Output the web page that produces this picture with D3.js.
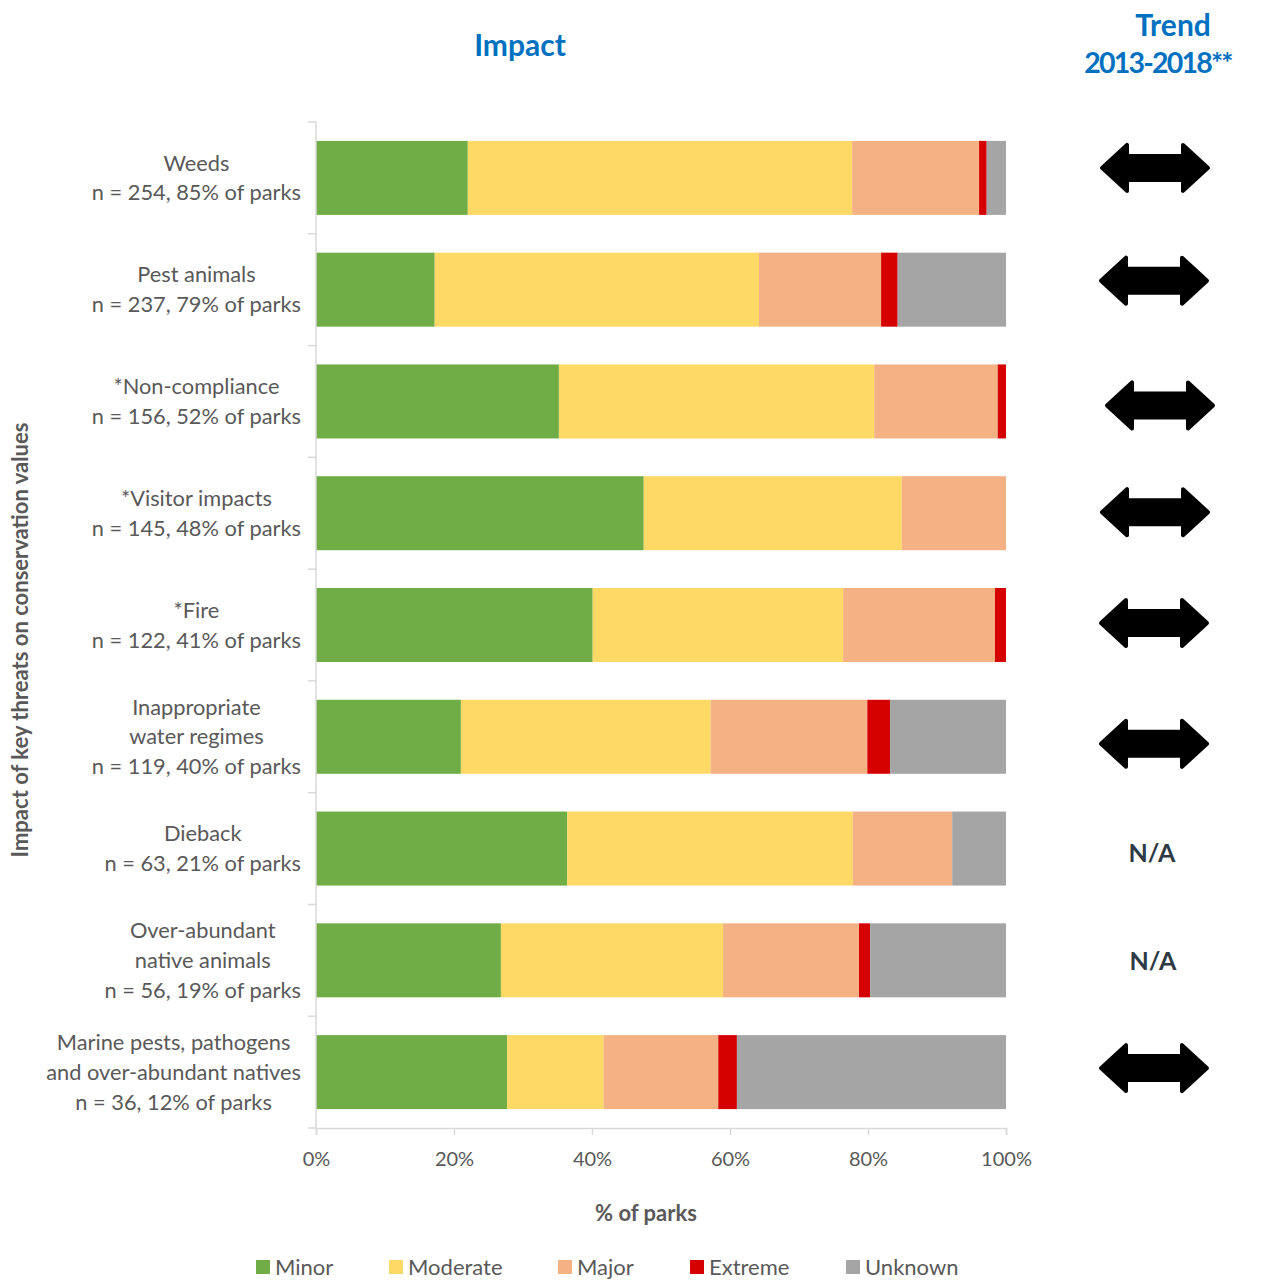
<!DOCTYPE html>
<html>
<head>
<meta charset="utf-8">
<script src="https://cdn.jsdelivr.net/npm/d3@7"></script>
<style>
  html, body { margin: 0; padding: 0; background: #fff; }
  svg { display: block; font-family: "Lato", "Open Sans", sans-serif; }
</style>
</head>
<body>
<svg id="chart" width="1270" height="1280"></svg>
<script>
// Threat categories (label lines) and their share of parks by impact level (%)
const categories = [
  ["Weeds", "n = 254, 85% of parks"],
  ["Pest animals", "n = 237, 79% of parks"],
  ["*Non-compliance", "n = 156, 52% of parks"],
  ["*Visitor impacts", "n = 145, 48% of parks"],
  ["*Fire", "n = 122, 41% of parks"],
  ["Inappropriate", "water regimes", "n = 119, 40% of parks"],
  ["Dieback", "n = 63, 21% of parks"],
  ["Over-abundant", "native animals", "n = 56, 19% of parks"],
  ["Marine pests, pathogens", "and over-abundant natives", "n = 36, 12% of parks"]
];
const minor    = [22.0, 17.2, 35.2, 47.5, 40.1, 21.0, 36.4, 26.8, 27.7];
const moderate = [55.7, 47.0, 45.7, 37.4, 36.3, 36.2, 41.4, 32.2, 14.0];
const major    = [18.4, 17.7, 17.9, 15.1, 22.0, 22.7, 14.4, 19.7, 16.6];
const extreme  = [ 1.1,  2.4,  1.2,  0.0,  1.6,  3.3,  0.0,  1.6,  2.7];
const unknown  = [ 2.8, 15.7,  0.0,  0.0,  0.0, 16.8,  7.8, 19.7, 39.0];
const trend    = ["stable", "stable", "stable", "stable", "stable", "stable", "N/A", "N/A", "stable"];
const xTicks   = [0, 20, 40, 60, 80, 100];

const seriesNames  = ["Minor", "Moderate", "Major", "Extreme", "Unknown"];
const seriesValues = [minor, moderate, major, extreme, unknown];
const colors       = ["#70AD47", "#FFD966", "#F4B183", "#D50000", "#A5A5A5"];

const svg = d3.select("#chart");
const margin = { left: 316, right: 264, top: 122, bottom: 152 };
const W = 1270, H = 1280;

const ids = categories.map((c, i) => i);
const rows = ids.map(i => {
  const r = { id: i };
  seriesNames.forEach((s, k) => r[s] = seriesValues[k][i]);
  return r;
});
const stacked = d3.stack().keys(seriesNames)(rows);

const x = d3.scaleLinear().domain([0, 100]).range([margin.left, W - margin.right]);
const y = d3.scaleBand().domain(ids).range([margin.top, H - margin.bottom])
  .paddingInner(0.338).paddingOuter(0.169);

const textGray = "#595959";
const axisGray = "#D9D9D9";

// Stacked bars
svg.append("g").selectAll("g").data(stacked).join("g")
  .attr("fill", (d, i) => colors[i])
  .selectAll("rect").data(d => d).join("rect")
  .attr("x", d => x(d[0]))
  .attr("width", d => x(d[1]) - x(d[0]))
  .attr("y", d => y(d.data.id))
  .attr("height", y.bandwidth());

// Vertical category axis line with ticks between bands
const yAxisG = svg.append("g");
yAxisG.append("line")
  .attr("x1", x(0)).attr("x2", x(0))
  .attr("y1", margin.top).attr("y2", H - margin.bottom)
  .attr("stroke", axisGray).attr("stroke-width", 1.5);
const bounds = ids.map(i => y(i) - y.step() * y.paddingInner() / 2);
bounds.push(H - margin.bottom);
yAxisG.selectAll("line.tick").data(bounds).join("line")
  .attr("class", "tick")
  .attr("x1", x(0) - 8).attr("x2", x(0))
  .attr("y1", d => d).attr("y2", d => d)
  .attr("stroke", axisGray).attr("stroke-width", 1.5);

// Bottom percentage axis
const xAxis = d3.axisBottom(x).tickValues(xTicks).tickFormat(d => d + "%").tickSize(7).tickPadding(17);
const xg = svg.append("g").attr("transform", `translate(0,${H - margin.bottom})`).call(xAxis);
xg.select(".domain").attr("stroke", axisGray).attr("stroke-width", 1.5);
xg.selectAll(".tick line").attr("stroke", axisGray).attr("stroke-width", 1.5);
xg.selectAll(".tick text").attr("fill", textGray).attr("font-size", 20)
  .attr("font-family", "Lato, sans-serif");

// Category labels: centred blocks, right edge aligned near the axis
const lineH = 29.8;
ids.forEach(i => {
  const lines = categories[i];
  const cy = y(i) + y.bandwidth() / 2;
  const g = svg.append("g");
  const t = g.selectAll("text").data(lines).join("text")
    .attr("text-anchor", "middle")
    .attr("x", 0)
    .attr("y", (d, k) => cy + (k - (lines.length - 1) / 2) * lineH)
    .attr("dy", "0.35em")
    .attr("font-size", 21.8)
    .attr("fill", textGray)
    .text(d => d);
  let maxW = 0;
  t.each(function () { maxW = Math.max(maxW, this.getComputedTextLength()); });
  g.attr("transform", `translate(${x(0) - 15 - maxW / 2},0)`);
});

// Trend column: double-headed arrows or N/A
const trendX = 1155;
// small per-row placement nudges of the trend symbols [dx, dy]
const trendNudge = [[0, -10], [-1, -9], [5, 4], [0, -1], [-1, -2], [-1, 7], [-3, 5], [-2, 1], [-1, -4]];
const aw = 106, ah = 46, shaft = 24, head = 25;
const arrowPath = (() => {
  const p = d3.path();
  const hw = aw / 2, hh = ah / 2, sh = shaft / 2;
  p.moveTo(-hw, 0);
  p.lineTo(-hw + head, -hh);
  p.lineTo(-hw + head, -sh);
  p.lineTo(hw - head, -sh);
  p.lineTo(hw - head, -hh);
  p.lineTo(hw, 0);
  p.lineTo(hw - head, hh);
  p.lineTo(hw - head, sh);
  p.lineTo(-hw + head, sh);
  p.lineTo(-hw + head, hh);
  p.closePath();
  return p.toString();
})();
ids.forEach(i => {
  const cy = y(i) + y.bandwidth() / 2;
  const [dx, dy] = trendNudge[i];
  if (trend[i] === "stable") {
    svg.append("path")
      .attr("d", arrowPath)
      .attr("transform", `translate(${trendX + dx},${cy + dy})`)
      .attr("fill", "#000")
      .attr("stroke", "#000")
      .attr("stroke-width", 4)
      .attr("stroke-linejoin", "round");
  } else {
    svg.append("text")
      .attr("x", trendX + dx).attr("y", cy + dy)
      .attr("dy", "0.35em")
      .attr("text-anchor", "middle")
      .attr("font-size", 25).attr("font-weight", "bold")
      .attr("fill", "#2E3A44")
      .text(trend[i]);
  }
});

// Headings
const blue = "#0070C0";
svg.append("text").attr("x", 520).attr("y", 45).attr("dy", "0.35em")
  .attr("text-anchor", "middle").attr("font-size", 30).attr("font-weight", "bold")
  .attr("fill", blue).text("Impact");
svg.append("text").attr("x", 1173).attr("y", 25).attr("dy", "0.35em")
  .attr("text-anchor", "middle").attr("font-size", 30).attr("font-weight", "bold")
  .attr("fill", blue).text("Trend");
svg.append("text").attr("x", 1158).attr("y", 63).attr("dy", "0.35em")
  .attr("text-anchor", "middle").attr("font-size", 28.5).attr("font-weight", "bold")
  .attr("letter-spacing", -1.8)
  .attr("fill", blue).text("2013-2018**");

// Axis titles
svg.append("text")
  .attr("transform", `translate(20,640) rotate(-90)`)
  .attr("dy", "0.35em")
  .attr("text-anchor", "middle").attr("font-size", 22).attr("font-weight", "bold")
  .attr("fill", textGray).text("Impact of key threats on conservation values");
svg.append("text").attr("x", 646).attr("y", 1213).attr("dy", "0.35em")
  .attr("text-anchor", "middle").attr("font-size", 22).attr("font-weight", "bold")
  .attr("fill", textGray).text("% of parks");

// Legend
const legendX = [256, 389, 558, 690, 846];
const legend = svg.append("g").selectAll("g").data(seriesNames).join("g")
  .attr("transform", (d, i) => `translate(${legendX[i]},1267)`);
legend.append("rect").attr("x", 0).attr("y", -7).attr("width", 14).attr("height", 14)
  .attr("fill", (d, i) => colors[i]);
legend.append("text").attr("x", 19).attr("y", 0).attr("dy", "0.35em")
  .attr("font-size", 22).attr("fill", textGray).text(d => d);
</script>
</body>
</html>
